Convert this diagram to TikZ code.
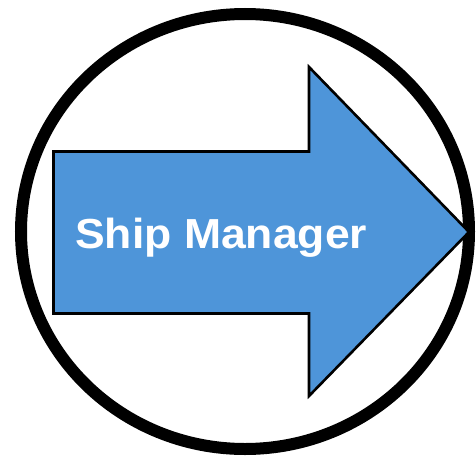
\documentclass[tikz,border=0pt]{standalone}
\usepackage{fontspec}
\setmainfont{Liberation Sans}
\definecolor{arrowblue}{HTML}{4E95D9}
\begin{document}
\begin{tikzpicture}[x=1pt,y=-1pt,
  ring/.style={draw=black,line width=12pt},
  bigarrow/.style={draw=black,line width=2.6pt,fill=arrowblue,line join=miter},
  label/.style={text=white,font=\fontsize{42}{50}\selectfont\bfseries,inner sep=0pt,anchor=base west}]
\useasboundingbox (0,0) rectangle (476,455);
\draw[ring] (245,231.5) ellipse [x radius=224, y radius=217.5];
\draw[bigarrow] (53.5,151.5) -- (309,151.5) -- (309,67) -- (469,232) -- (309,396) -- (309,313.5) -- (53.5,313.5) -- cycle;
\node[label] (title) at (75,248) {\scalebox{1.06}[1]{Ship Manager}};
\end{tikzpicture}
\end{document}
